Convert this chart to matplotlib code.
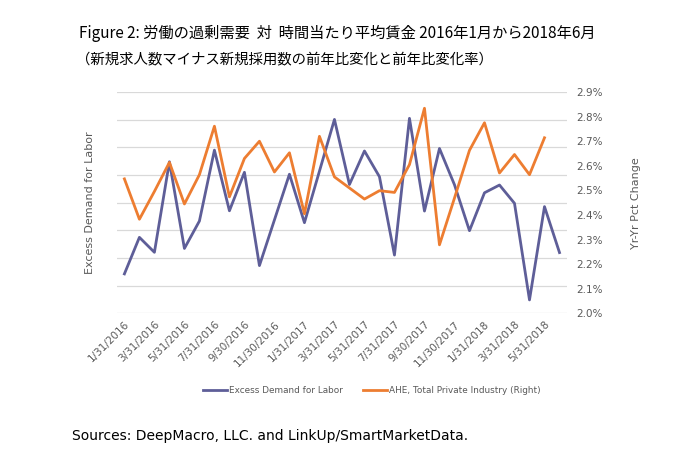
import numpy as np
import pandas as pd
import matplotlib
matplotlib.use("Agg")
import matplotlib.pyplot as plt

# monthly data, Jan 2016 - Jun 2018
dates = pd.date_range("2016-01-31", periods=30, freq="ME")
date_labels = [f"{d.month}/{d.day}/{d.year}" for d in dates]

# excess demand for labor (left axis, unlabeled units)
excess_demand = [1.43, 2.75, 2.21, 5.48, 2.35, 3.34, 5.90, 3.71, 5.10, 1.73,
                 3.38, 5.03, 3.28, 5.14, 7.01, 4.66, 5.87, 4.94, 2.11, 7.05,
                 3.70, 5.96, 4.65, 2.99, 4.36, 4.64, 3.98, 0.49, 3.86, 2.20]

# average hourly earnings, yr/yr % change (right axis)
ahe = [2.547, 2.383, 2.496, 2.614, 2.445, 2.564, 2.761, 2.474, 2.630, 2.700,
       2.575, 2.653, 2.405, 2.720, 2.555, 2.510, 2.465, 2.499, 2.492, 2.605,
       2.834, 2.279, 2.469, 2.663, 2.775, 2.571, 2.646, 2.564, 2.714]

blue = "#5E5E98"
orange = "#ED7D31"
gray = "#595959"

fig = plt.figure(figsize=(7, 4.69), dpi=100)
ax = fig.add_axes([0.167, 0.3316, 0.643, 0.4722])
ax2 = ax.twinx()

x = np.arange(len(dates))
l1, = ax.plot(x, excess_demand, color=blue, lw=2.0, label="Excess Demand for Labor")
l2, = ax2.plot(x[:len(ahe)], ahe, color=orange, lw=2.0,
               label="AHE, Total Private Industry (Right)")

ax.set_xlim(-0.5, len(dates) - 0.5)
ax.set_ylim(0, 8)
ax.set_yticks(np.arange(0, 9, 1))
ax.yaxis.grid(True, color="#D9D9D9", lw=0.9)
ax.set_axisbelow(True)
ax.tick_params(axis="y", length=0, labelleft=False)
ax.set_ylabel("Excess Demand for Labor", fontsize=8, color=gray, labelpad=16)

ax2.set_ylim(2.0, 2.9)
ax2.set_yticks(np.arange(2.0, 2.91, 0.1))
ax2.set_yticklabels([f"{v:.1f}%" for v in np.arange(2.0, 2.91, 0.1)])
ax2.tick_params(axis="y", length=0, labelsize=7.5, labelcolor=gray, pad=7)
ax2.set_ylabel("Yr-Yr Pct Change", fontsize=8, color=gray, labelpad=20)

ax.set_xticks(x[::2])
ax.set_xticklabels(date_labels[::2], rotation=45, ha="right",
                   rotation_mode="anchor", fontsize=7.5, color=gray)
ax.tick_params(axis="x", length=0, pad=4)

for a in (ax, ax2):
    for s in a.spines.values():
        s.set_visible(False)

fig.legend(handles=[l1, l2], loc="center", bbox_to_anchor=(0.531, 0.168),
           ncol=2, frameon=False, fontsize=6.4, handlelength=2.8,
           handletextpad=0.2, columnspacing=2.2, labelcolor=gray)

cjk = ["Noto Sans CJK JP", "DejaVu Sans"]
fig.text(0.113, 0.928, "Figure 2: 労働の過剰需要  対  時間当たり平均賃金 2016年1月から2018年6月",
         family=cjk, fontsize=11, va="center", ha="left")
fig.text(0.108, 0.874, "（新規求人数マイナス新規採用数の前年比変化と前年比変化率）",
         family=cjk, fontsize=10.4, va="center", ha="left")
fig.text(0.103, 0.07, "Sources: DeepMacro, LLC. and LinkUp/SmartMarketData.",
         fontsize=10, va="center", ha="left")

fig.savefig("out.png", dpi=100)
